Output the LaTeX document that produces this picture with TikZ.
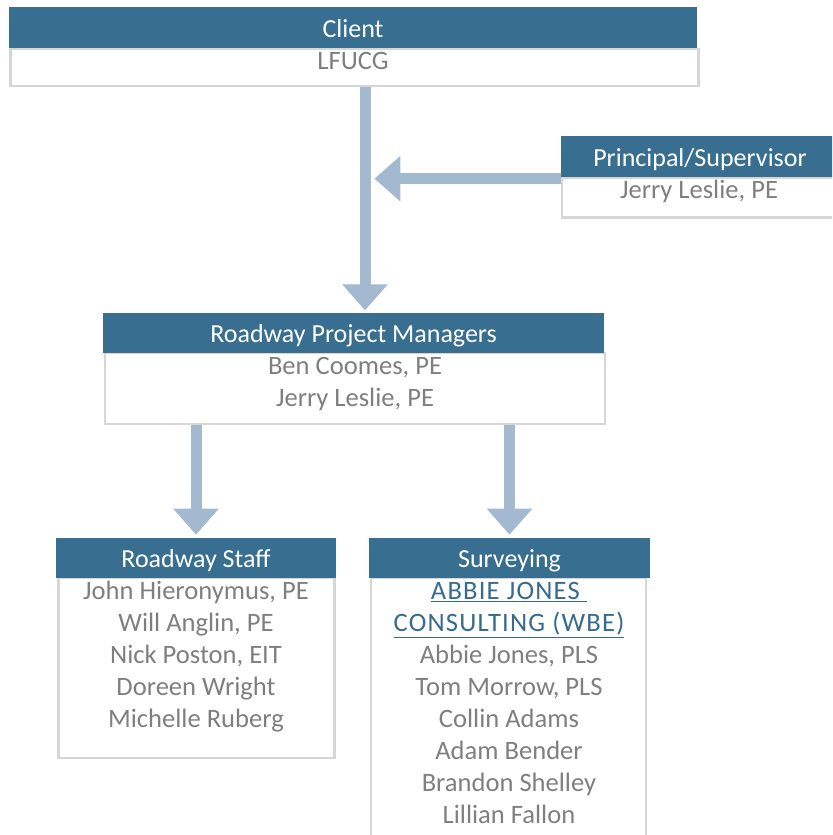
\documentclass[tikz,border=0pt]{standalone}
\usepackage{fontspec}
\setmainfont{Carlito}
\usepackage{tikz}
\usetikzlibrary{arrows.meta}

\definecolor{headblue}{RGB}{56,110,143}
\definecolor{flowblue}{RGB}{162,185,208}
\definecolor{framegray}{RGB}{214,214,214}
\definecolor{namegray}{RGB}{127,127,127}
\definecolor{linkblue}{RGB}{54,106,142}
\newcommand\boxfont{\fontsize{18.5}{22.8}\selectfont}
\newcommand\namefont{\fontsize{18.9}{22.8}\selectfont}
\newcommand\topstrut{\rule{0pt}{15pt}}
\newcommand\firmname[1]{\textcolor{linkblue}{\addfontfeature{LetterSpace=4.5}\underline{#1}}}

\begin{document}
\begin{tikzpicture}[>={Triangle[width=1.1cm,length=0.65cm]},
	head/.style={fill=headblue, text=white, inner sep=0pt, minimum height=1cm,
		text height=15pt, text depth=1pt, font=\boxfont},
	frame/.style={draw=framegray, line width=1.8pt, inner sep=0pt},
	names/.style={text=namegray, align=center, inner sep=0pt, anchor=north, font=\namefont},
	flow/.style={->, draw=flowblue, fill=flowblue, line width=0.275cm}]
	\useasboundingbox (0,0) rectangle (20.8,-20.875);
	\clip (0,0) rectangle (20.8,-20.875);
	% client
	\node [frame, minimum width=17.2cm, minimum height=0.925cm] (f1) at (8.8625,-1.6875) {};
	\node [head, minimum width=17.2cm, minimum height=1.025cm] (n1) at (8.825,-0.6875) {Client};
	\node [names] (t1) at (8.825,-1.2) {\topstrut LFUCG};
	% principal
	\node [frame, minimum width=6.95cm, minimum height=1cm] (f2) at (17.525,-4.9375) {};
	\node [head, minimum width=6.95cm, minimum height=1.025cm] (n2) at (17.5,-3.9125) {Principal/Supervisor};
	\node [names] (t2) at (17.475,-4.425) {\topstrut Jerry Leslie, PE};
	% project managers
	\node [frame, minimum width=12.5cm, minimum height=1.775cm] (f3) at (8.875,-9.7125) {};
	\node [head, minimum width=12.525cm] (n3) at (8.8375,-8.325) {Roadway Project Managers};
	\node [names] (t3) at (8.875,-8.825) {\topstrut Ben Coomes, PE\\Jerry Leslie, PE};
	% staff
	\node [frame, minimum width=6.9cm, minimum height=4.5cm] (f4) at (4.9125,-16.7) {};
	\node [head, minimum width=7cm] (n4) at (4.9,-13.95) {Roadway Staff};
	\node [names] (t4) at (4.9,-14.45) {\topstrut John Hieronymus, PE\\Will Anglin, PE\\Nick Poston, EIT\\Doreen Wright\\Michelle Ruberg};
	% surveying
	\node [frame, minimum width=6.875cm, minimum height=6.675cm] (f5) at (12.7125,-17.7875) {};
	\node [head, minimum width=7.025cm] (n5) at (12.7375,-13.95) {Surveying};
	\node [names] (t5) at (12.725,-14.45) {\topstrut\firmname{ABBIE JONES\ }\\
		\firmname{CONSULTING (WBE)}\\Abbie Jones, PLS\\Tom Morrow, PLS\\
		Collin Adams\\Adam Bender\\Brandon Shelley\\Lillian Fallon};
	\coordinate (m) at (9.36,-4.4675);
	\draw [flow] ([xshift=0.2625cm]f1.south) -- ([xshift=0.2875cm,yshift=0.06cm]n3.north);
	\draw [flow] (n2.south west |- m) -- (m);
	\draw [flow] (n4.north |- f3.south) -- ([yshift=0.075cm]n4.north);
	\draw [flow] (n5.north |- f3.south) -- ([yshift=0.075cm]n5.north);
\end{tikzpicture}
\end{document}
